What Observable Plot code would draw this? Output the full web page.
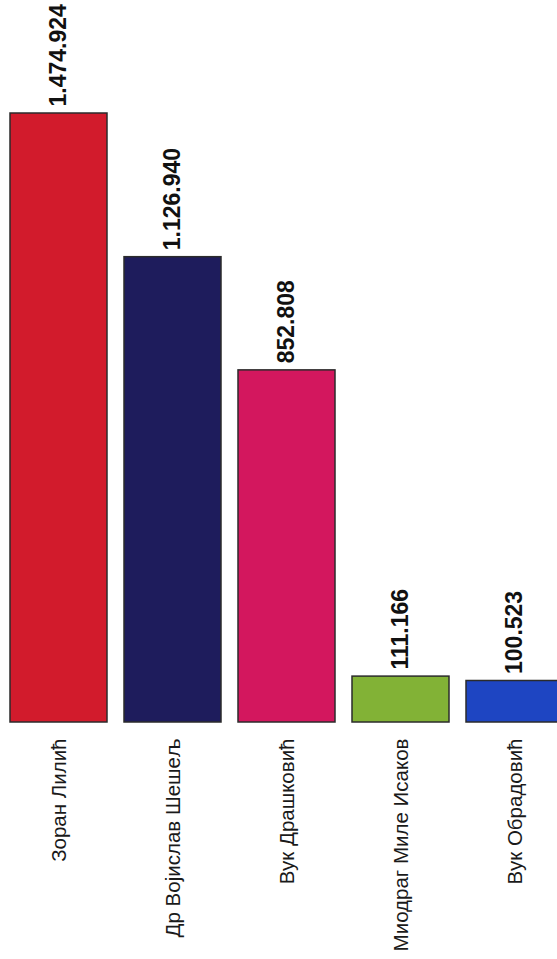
<!DOCTYPE html>
<html>
<head>
<meta charset="utf-8">
<script src="https://cdn.jsdelivr.net/npm/d3@7"></script>
<script src="https://cdn.jsdelivr.net/npm/@observablehq/plot@0.6"></script>
<style>
  html, body { margin: 0; padding: 0; background: #fff; overflow: hidden; width: 557px; height: 959px; }
  #chart svg { display: block; }
</style>
</head>
<body>
<div id="chart"></div>
<script>
// Data
const candidates = ["Зоран Лилић", "Др Војислав Шешељ", "Вук Драшковић", "Миодраг Миле Исаков", "Вук Обрадовић"];
const votes = [1474924, 1126940, 852808, 111166, 100523];

const table = candidates.map((name, i) => ({name, votes: votes[i]}));
const fmt = d3.formatLocale({decimal: ",", thousands: ".", grouping: [3], currency: ["", ""]}).format(",");
const font = "'Liberation Sans', Arial, Helvetica, sans-serif";
const palette = ["#d21b2c", "#1e1c5c", "#d3175e", "#82b236", "#1e45c2"];

const chart = Plot.plot({
  width: 557,
  height: 959,
  marginTop: 0, marginLeft: 0, marginRight: 0, marginBottom: 237,
  style: {fontFamily: font, background: "transparent", maxWidth: "none"},
  x: {domain: candidates, range: [8, 565], paddingInner: 0.15, paddingOuter: 0, axis: null},
  y: {domain: [0, d3.max(votes)], range: [722, 113], axis: null},
  color: {domain: candidates, range: palette},
  marks: [
    Plot.barY(table, {x: "name", y: "votes", fill: "name", stroke: "#2b2b2b", strokeWidth: 1.5}),
    Plot.text(table, {
      x: "name", y: "votes", text: d => fmt(d.votes),
      rotate: -90, textAnchor: "start", lineAnchor: "middle",
      dy: -7, fontSize: 23, fontWeight: "bold", fill: "#111"
    }),
    Plot.text(candidates, {
      x: d => d, frameAnchor: "bottom", dy: 16,
      rotate: -90, textAnchor: "end", lineAnchor: "middle",
      fontSize: 20.5, fill: "#1a1a1a"
    })
  ]
});
document.getElementById("chart").appendChild(chart);
</script>
</body>
</html>
